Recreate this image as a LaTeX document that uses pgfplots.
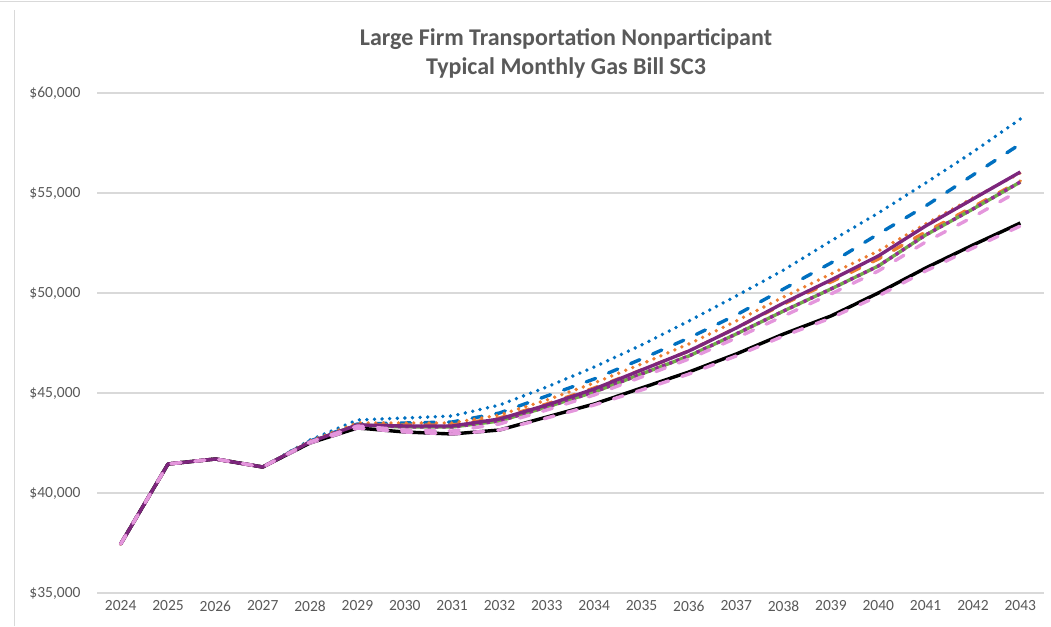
\documentclass[border=0pt]{standalone}
\usepackage{pgfplots}
\usepackage{pgfplotstable}
\pgfplotsset{compat=1.18}
\usepackage{fontspec}
\setmainfont{Carlito}
\definecolor{txtgray}{RGB}{89,89,89}
\definecolor{gridgray}{RGB}{217,217,217}
\definecolor{cblue}{RGB}{0,112,192}
\definecolor{corange}{RGB}{237,125,49}
\definecolor{cpurple}{RGB}{125,38,125}
\definecolor{cpurdot}{RGB}{150,40,150}
\definecolor{cgreen}{RGB}{112,173,71}
\definecolor{cpink}{RGB}{228,150,220}

\pgfplotstableread{
year bd bsh od osh pu gr pk bk pkb
2024 37450 37450 37450 37450 37450 37450 37450 37450 37450
2025 41450 41450 41450 41450 41450 41450 41450 41450 41450
2026 41700 41700 41700 41700 41700 41700 41700 41700 41700
2027 41300 41300 41300 41300 41300 41300 41300 41300 41300
2028 42650 42600 42600 42550 42550 42550 42550 42500 42500
2029 43650 43450 43500 43400 43400 43400 43350 43250 43250
2030 43750 43500 43500 43400 43350 43300 43150 43050 43050
2031 43850 43550 43500 43400 43350 43300 43100 42950 42950
2032 44400 44000 43900 43750 43700 43600 43450 43150 43150
2033 45300 44850 44650 44450 44400 44300 44150 43800 43750
2034 46300 45700 45500 45250 45200 45050 44900 44450 44400
2035 47400 46700 46450 46150 46150 45950 45800 45250 45150
2036 48600 47750 47450 47100 47100 46850 46700 46050 45950
2037 49850 48900 48600 48250 48250 47950 47750 46950 46850
2038 51150 50200 49800 49450 49500 49100 48850 47950 47850
2039 52600 51500 50950 50550 50650 50200 49950 48850 48750
2040 54000 52950 52100 51700 51850 51350 51100 50000 49850
2041 55500 54350 53450 53050 53350 52900 52550 51250 51100
2042 57050 55900 54750 54300 54700 54200 53800 52400 52250
2043 58700 57450 56000 55600 56050 55550 55150 53500 53350
}\datatab

\begin{document}
\begin{tikzpicture}[x=1pt,y=1pt]
\path[use as bounding box] (0,0) rectangle (1051,626);
\draw[gridgray, line width=1pt] (14.5,0) -- (14.5,616);
\draw[gridgray, line width=1pt] (0,624.5) -- (1051,624.5);
\node[font=\bfseries\fontsize{24}{28}\selectfont, text=txtgray] at (566,587) {Large Firm Transportation Nonparticipant};
\node[font=\bfseries\fontsize{24}{28}\selectfont, text=txtgray] at (566,558) {Typical Monthly Gas Bill SC3};
\begin{axis}[
  at={(97pt,33pt)}, anchor=south west,
  scale only axis, width=947pt, height=500pt,
  xmin=2023.5, xmax=2043.5, ymin=35000, ymax=60000,
  scaled y ticks=false, scaled x ticks=false,
  xtick={2024,2025,...,2043},
  xticklabels={2024,2025,2026,2027,2028,2029,2030,2031,2032,2033,2034,2035,2036,2037,2038,2039,2040,2041,2042,2043},
  ytick={35000,40000,45000,50000,55000,60000},
  yticklabels={{\$35,000},{\$40,000},{\$45,000},{\$50,000},{\$55,000},{\$60,000}},
  axis line style={draw=none},
  major tick length=0pt,
  ymajorgrids, grid style={gridgray, line width=1.3pt},
  tick label style={font=\fontsize{15.5}{18}\selectfont, text=txtgray},
  yticklabel shift=13pt,
  xticklabel shift=4pt,
  clip=false,
  every axis plot/.append style={line width=3.4pt, line join=round},
]
\addplot[cblue, line cap=round, dash pattern=on 0pt off 7.6pt, line width=3.8pt] table[x=year,y=bd] {\datatab};
\addplot[cblue, line cap=round, dash pattern=on 10pt off 14pt] table[x=year,y=bsh] {\datatab};
\addplot[corange, line cap=round, dash pattern=on 0pt off 7.6pt, line width=3.8pt] table[x=year,y=od] {\datatab};
\addplot[corange, line cap=round, dash pattern=on 10pt off 14pt] table[x=year,y=osh] {\datatab};
\addplot[cgreen] table[x=year,y=gr] {\datatab};
\addplot[cpurdot, line cap=butt, dash pattern=on 3.4pt off 4pt] table[x=year,y=gr] {\datatab};
\addplot[black] table[x=year,y=bk] {\datatab};
\addplot[cpink, line cap=round, dash pattern=on 10pt off 14pt] table[x=year,y=pkb] {\datatab};
\addplot[cpurple] table[x=year,y=pu] {\datatab};
\addplot[cpink, line cap=round, dash pattern=on 10pt off 14pt] table[x=year,y=pk] {\datatab};
\end{axis}
\end{tikzpicture}
\end{document}
